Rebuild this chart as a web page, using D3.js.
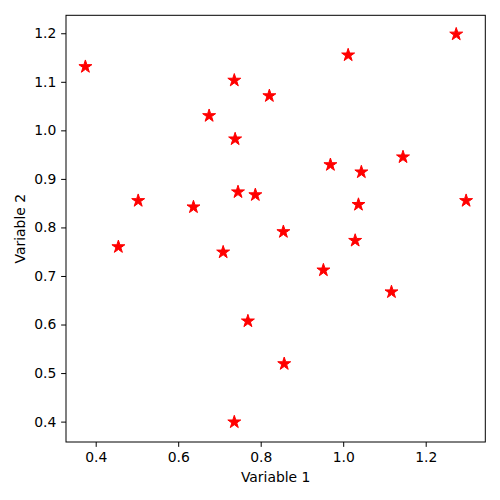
<!DOCTYPE html>
<html>
<head>
<meta charset="utf-8">
<script src="https://cdn.jsdelivr.net/npm/d3@7"></script>
<style>
  body { margin: 0; background: #fff; }
  svg text { font-family: "DejaVu Sans", sans-serif; fill: #000; }
</style>
</head>
<body>
<div id="viz"></div>
<script>
// values
var var1 = [0.375, 0.736, 0.675, 0.738, 0.503, 0.637, 0.745, 0.455, 0.709,
            1.274, 1.012, 0.821, 1.145, 0.969, 1.044, 0.787, 1.037, 1.298,
            0.855, 1.029, 0.952, 1.117, 0.857, 0.769, 0.736];
var var2 = [1.131, 1.103, 1.030, 0.982, 0.855, 0.842, 0.873, 0.760, 0.749,
            1.198, 1.155, 1.071, 0.945, 0.929, 0.914, 0.867, 0.847, 0.855,
            0.791, 0.773, 0.712, 0.667, 0.519, 0.607, 0.399];
var xTicks = [0.4, 0.6, 0.8, 1.0, 1.2];
var yTicks = [0.4, 0.5, 0.6, 0.7, 0.8, 0.9, 1.0, 1.1, 1.2];
var xLabel = "Variable 1";
var yLabel = "Variable 2";

var w = 500, h = 500;
var margin = { left: 66, right: 14.7, top: 15.3, bottom: 58 };
var figw = w - margin.left - margin.right;
var figh = h - margin.top - margin.bottom;

var svg = d3.select("div#viz")
  .append("svg")
  .attr("width", w)
  .attr("height", h);

var x = d3.scaleLinear().domain([0.328, 1.3445]).range([margin.left, margin.left + figw]);
var y = d3.scaleLinear().domain([0.358, 1.237]).range([margin.top + figh, margin.top]);

var data = var1.map(function(d, i) { return { v1: d, v2: var2[i] }; });

var star = d3.symbol().type(d3.symbolStar).size(52);

svg.append("g")
  .selectAll("path")
  .data(data)
  .enter()
  .append("path")
  .attr("d", star)
  .attr("transform", function(d) { return "translate(" + x(d.v1) + "," + y(d.v2) + ")"; })
  .attr("fill", "#ff0000")
  .attr("stroke", "#ff0000")
  .attr("stroke-width", 1);

var xAxis = d3.axisBottom(x)
  .tickValues(xTicks)
  .tickFormat(d3.format(".1f"))
  .tickSize(4.86)
  .tickPadding(4.86)
  .tickSizeOuter(0);

var yAxis = d3.axisLeft(y)
  .tickValues(yTicks)
  .tickFormat(d3.format(".1f"))
  .tickSize(4.86)
  .tickPadding(4.86)
  .tickSizeOuter(0);

var gx = svg.append("g")
  .attr("transform", "translate(0," + (margin.top + figh) + ")")
  .call(xAxis);
var gy = svg.append("g")
  .attr("transform", "translate(" + margin.left + ",0)")
  .call(yAxis);

[gx, gy].forEach(function(g) {
  g.select(".domain").remove();
  g.selectAll("line").attr("stroke", "#000").attr("stroke-width", 1);
  g.selectAll("text").style("font-size", "13.9px").attr("fill", "#000");
});

// frame
svg.append("rect")
  .attr("x", margin.left)
  .attr("y", margin.top)
  .attr("width", figw)
  .attr("height", figh)
  .attr("fill", "none")
  .attr("stroke", "#000")
  .attr("stroke-width", 1);

svg.append("text")
  .attr("x", margin.left + figw / 2)
  .attr("y", 481.5)
  .style("text-anchor", "middle")
  .style("font-size", "13.9px")
  .text(xLabel);

svg.append("text")
  .attr("transform", "translate(25," + (margin.top + figh / 2) + ")rotate(-90)")
  .style("text-anchor", "middle")
  .style("font-size", "13.9px")
  .text(yLabel);
</script>
</body>
</html>
